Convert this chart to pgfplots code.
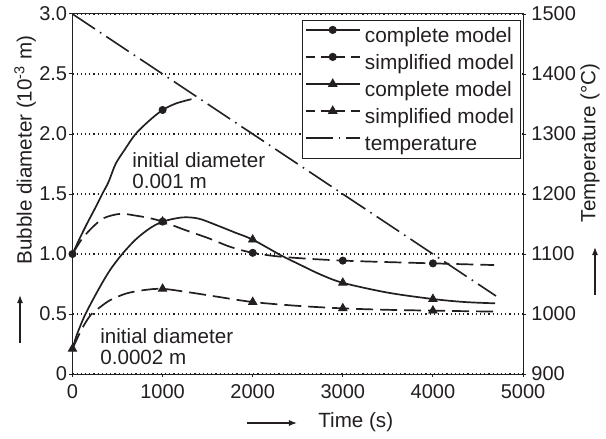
\documentclass[border=0pt]{standalone}
\usepackage{fontspec}
\setmainfont{Liberation Sans}
\usepackage{pgfplots}
\pgfplotsset{compat=1.18}
\usetikzlibrary{arrows.meta}
\definecolor{ink}{RGB}{35,31,32}
\pgfplotsset{mylegend/.style={legend image code/.code={\draw[mark repeat=2, mark phase=2, ##1] plot coordinates {(0pt,2.8pt) (13.5pt,2.8pt) (27pt,2.8pt)};}}}

\begin{document}
\fontsize{10.3}{10.6}\selectfont
\begin{tikzpicture}[color=ink]
\pgfplotsset{
  common/.style={
    scale only axis, width=225.25pt, height=180pt,
    xmin=0, xmax=5000,
    clip=false,
    tick align=outside,
    major tick length=1.5pt,
    every tick/.style={ink, line width=0.5pt},
    axis line style={ink, line width=0.5pt},
    tick label style={font=\fontsize{10}{11}\selectfont, /pgf/number format/assume math mode=true},
  },
  solidc/.style={ink, line width=0.85pt, smooth, no marks},
  dashc/.style={ink, line width=0.85pt, smooth, no marks, dash pattern=on 8.5pt off 3.5pt},
  tempc/.style={ink, line width=0.8pt, no marks, dash pattern=on 13.5pt off 3pt on 0.8pt off 3pt},
  circm/.style={ink, only marks, mark=*, mark size=1.8pt},
  trim/.style={ink, only marks, mark=triangle*, mark size=2.4pt},
}
\begin{axis}[common,
  ymin=0, ymax=3,
  ytick={0,0.5,1,1.5,2,2.5,3}, yticklabels={0,0.5,1.0,1.5,2.0,2.5,3.0},
  xtick={0,1000,2000,3000,4000,5000}, xticklabels={0,1000,2000,3000,4000,5000},
  tick pos=left,
  ymajorgrids, grid style={ink, line width=0.6pt, dash pattern=on 0.6pt off 1.5pt},
  yticklabel style={inner xsep=1pt},
  xticklabel style={inner ysep=3.5pt},
]
% complete model, initial 0.0002 m (triangles)
\addplot[solidc] coordinates {(0,0.21)(50,0.33)(144,0.5)(300,0.72)(420,0.87)(552,1.0)(700,1.12)(850,1.21)(1000,1.27)(1219,1.305)(1400,1.295)(1600,1.24)(1800,1.18)(2000,1.12)(2311,0.99)(2500,0.92)(2750,0.83)(3000,0.76)(3500,0.678)(4000,0.625)(4350,0.60)(4690,0.589)};
% simplified model, initial 0.0002 m
\addplot[dashc] coordinates {(0,0.21)(100,0.37)(200,0.49)(311,0.56)(422,0.617)(600,0.672)(800,0.70)(1000,0.71)(1300,0.68)(1600,0.645)(2000,0.60)(2500,0.568)(3000,0.547)(3500,0.535)(4000,0.528)(4680,0.52)};
\addplot[trim] coordinates {(0,0.21)(1000,1.27)(2000,1.12)(3000,0.76)(4000,0.625)};
\addplot[trim] coordinates {(1000,0.71)(2000,0.60)(3000,0.547)(4000,0.528)};
% complete model, initial 0.001 m (circles)
\addplot[solidc] coordinates {(0,1.0)(80,1.13)(163,1.256)(250,1.38)(330,1.50)(400,1.60)(478,1.75)(580,1.87)(700,2.0)(850,2.11)(1000,2.2)(1150,2.255)(1320,2.29)};
% simplified model, initial 0.001 m
\addplot[dashc] coordinates {(0,1.0)(100,1.12)(218,1.22)(350,1.30)(533,1.335)(700,1.32)(850,1.30)(1000,1.27)(1250,1.20)(1515,1.13)(1750,1.06)(2000,1.01)(2350,0.975)(3000,0.945)(4000,0.922)(4680,0.908)};
\addplot[circm] coordinates {(0,1.0)(1000,2.2)};
\addplot[circm] coordinates {(1000,1.27)(2000,1.01)(3000,0.945)(4000,0.922)};
\node[anchor=west, align=left, inner sep=0pt, font=\fontsize{10.3}{10.5}\selectfont] at (rel axis cs:0.132,0.565) {initial diameter\\0.001 m};
\node[anchor=west, align=left, inner sep=0pt, font=\fontsize{10.3}{10.5}\selectfont] at (rel axis cs:0.061,0.0764) {initial diameter\\0.0002 m};
\coordinate (bbsw) at (rel axis cs:-0.1609,-0.1778);
\coordinate (bbne) at (rel axis cs:1.1842,1.0389);
\end{axis}
\begin{axis}[common,
  axis x line=none, axis y line*=right,
  ymin=900, ymax=1500,
  ytick={900,1000,1100,1200,1300,1400,1500}, yticklabels={900,1000,1100,1200,1300,1400,1500},
  yticklabel style={inner xsep=2.5pt},
  legend cell align=left,
  legend style={at={(1,1)}, anchor=north east, xshift=-1pt, yshift=-3pt,
    draw=ink, line width=0.5pt, fill=white, inner xsep=1pt, inner ysep=0.75pt,
    row sep=0pt, font=\fontsize{10.4}{10.6}\selectfont,
    nodes={inner xsep=2.2pt, inner ysep=0.5pt, text height=9.5pt, text depth=3pt}},
]
\addlegendimage{mylegend, ink, line width=0.85pt, mark=*, mark size=1.6pt}
\addlegendentry{complete model}
\addlegendimage{mylegend, ink, line width=0.85pt, mark=*, mark size=1.6pt, dash pattern=on 4.5pt off 3pt, mark options={solid}}
\addlegendentry{simplified model}
\addlegendimage{mylegend, ink, line width=0.85pt, mark=triangle*, mark size=2pt}
\addlegendentry{complete model}
\addlegendimage{mylegend, ink, line width=0.85pt, mark=triangle*, mark size=2pt, dash pattern=on 4.5pt off 3pt, mark options={solid}}
\addlegendentry{simplified model}
\addplot[tempc, mylegend] coordinates {(0,1500)(4700,1030)};
\addlegendentry{temperature}
\node[rotate=90] at (rel axis cs:-0.1054,0.622) {Bubble diameter (10\textsuperscript{-3} m)};
\draw[-{Latex[length=4pt,width=3pt]}, line width=0.6pt] (rel axis cs:-0.1165,0.0861) -- (rel axis cs:-0.1165,0.2194);
\node[rotate=90] at (rel axis cs:1.1487,0.6417) {Temperature (°C)};
\draw[-{Latex[length=4pt,width=3pt]}, line width=0.6pt] (rel axis cs:1.1598,0.2194) -- (rel axis cs:1.1598,0.3528);
\node[anchor=west, inner sep=0pt] at (rel axis cs:0.5449,-0.1333) {Time (s)};
\draw[-{Latex[length=4pt,width=3pt]}, line width=0.6pt] (rel axis cs:0.3874,-0.136) -- (rel axis cs:0.4983,-0.136);
\end{axis}
\pgfresetboundingbox
\useasboundingbox (bbsw) rectangle (bbne);
\end{tikzpicture}
\end{document}
